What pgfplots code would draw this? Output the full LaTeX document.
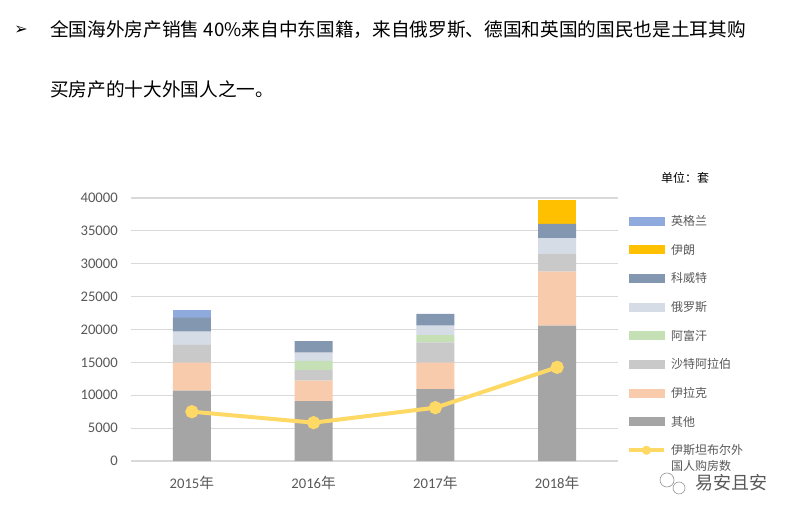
\documentclass[border=0pt]{standalone}
\usepackage{fontspec}
\setmainfont{Carlito}
\newfontfamily\cjk{Noto Sans CJK SC}
\newfontfamily\dejavu{DejaVu Sans}
\usepackage{pgfplots}
\pgfplotsset{compat=1.18}

\definecolor{cOther}{HTML}{A5A5A5}
\definecolor{cIraq}{HTML}{F8CBAD}
\definecolor{cSaudi}{HTML}{C9C9C9}
\definecolor{cAfg}{HTML}{C5E0B4}
\definecolor{cRus}{HTML}{D6DCE5}
\definecolor{cKuw}{HTML}{8497B0}
\definecolor{cIran}{HTML}{FFC000}
\definecolor{cEng}{HTML}{8FAADC}
\definecolor{cLine}{HTML}{FFD966}
\definecolor{cGrid}{HTML}{D9D9D9}
\definecolor{cTick}{HTML}{595959}

% shared frame of both axes (stacked bars + purchase line)
\pgfplotsset{
  frame/.style={
    at={(98.25pt,42pt)}, anchor=south west,
    scale only axis, width=365.25pt, height=197.25pt,
    xmin=-0.5, xmax=3.5, ymin=0, ymax=40000,
    xtick={0,1,2,3}, ytick={0,5000,...,40000},
    scaled y ticks=false,
    major tick length=0pt, clip=false,
  },
  swatch/.style={legend image code/.code={\fill[#1] (0pt,0.4pt) rectangle (26.25pt,6.4pt);}},
}

\begin{document}
\begin{tikzpicture}
\fill[white] (0,0) rectangle (596.25pt,387.75pt);

\begin{axis}[frame,
  axis line style={draw=none}, tick style={draw=none},
  ymajorgrids, grid style={cGrid, line width=0.9pt},
  ybar stacked, bar width=28.5pt,
  /pgf/number format/assume math mode=true,
  /pgf/number format/1000 sep={},
  yticklabel style={font=\fontsize{11}{13}\selectfont, text=cTick, anchor=east, inner sep=0pt, xshift=-9.75pt},
  xticklabel style={font=\fontsize{11}{13}\selectfont, text=cTick, anchor=base, inner sep=0pt, yshift=-20.6pt},
  xticklabels={2015{\cjk 年},2016{\cjk 年},2017{\cjk 年},2018{\cjk 年}},
  legend style={at={(axis description cs:1.0185,0.931)}, anchor=north west,
    draw=none, fill=none, inner sep=0pt, outer sep=0pt,
    row sep=12.5pt, column sep=3.75pt,
    font=\cjk\fontsize{9}{11}\selectfont, text=cTick,
    nodes={inner sep=0pt, anchor=base west, text height=7pt, text depth=2pt}},
  legend cell align=left,
]
\addplot[forget plot, draw=none, fill=cOther] coordinates {(0,10700) (1,9125) (2,10950) (3,20580)};
\addplot[forget plot, draw=none, fill=cIraq]  coordinates {(0,4250) (1,3085) (2,4000) (3,8220)};
\addplot[forget plot, draw=none, fill=cSaudi] coordinates {(0,2700) (1,1630) (2,3100) (3,2680)};
\addplot[forget plot, draw=none, fill=cAfg]   coordinates {(0,0) (1,1370) (2,1110) (3,0)};
\addplot[forget plot, draw=none, fill=cRus]   coordinates {(0,2030) (1,1260) (2,1420) (3,2390)};
\addplot[forget plot, draw=none, fill=cKuw]   coordinates {(0,2130) (1,1780) (2,1780) (3,2180)};
\addplot[forget plot, draw=none, fill=cIran]  coordinates {(0,0) (1,0) (2,0) (3,3650)};
\addplot[forget plot, draw=none, fill=cEng]   coordinates {(0,1170) (1,0) (2,0) (3,0)};

\addlegendimage{swatch=cEng}   \addlegendentry{英格兰}
\addlegendimage{swatch=cIran}  \addlegendentry{伊朗}
\addlegendimage{swatch=cKuw}   \addlegendentry{科威特}
\addlegendimage{swatch=cRus}   \addlegendentry{俄罗斯}
\addlegendimage{swatch=cAfg}   \addlegendentry{阿富汗}
\addlegendimage{swatch=cSaudi} \addlegendentry{沙特阿拉伯}
\addlegendimage{swatch=cIraq}  \addlegendentry{伊拉克}
\addlegendimage{swatch=cOther} \addlegendentry{其他}
\addlegendimage{legend image code/.code={
    \draw[cLine, line width=3pt] (0pt,3.4pt) -- (26.25pt,3.4pt);
    \fill[cLine] (13.1pt,3.4pt) circle (3.2pt);}}
\addlegendentry{\begin{tabular}[t]{@{}l@{}}伊斯坦布尔外\\[0.5pt]国人购房数\end{tabular}}
\end{axis}

% purchases by foreigners in Istanbul
\begin{axis}[frame, hide axis]
\addplot[cLine, line width=3pt, mark=*, mark size=3.4pt, mark options={fill=cLine, draw=cLine}]
  coordinates {(0,7500) (1,5830) (2,8110) (3,14250)};
\end{axis}

\begin{scope}[x=0.75pt, y=-0.75pt, yshift=387.75pt]
  \node[font=\dejavu\fontsize{12}{13}\selectfont, inner sep=0pt] at (21,30) {➢};
  \node[anchor=west, inner sep=0pt, font=\cjk\fontsize{14}{16}\selectfont]
    at (50,30) {全国海外房产销售 40\%来自中东国籍，来自俄罗斯、德国和英国的国民也是土耳其购};
  \node[anchor=west, inner sep=0pt, font=\cjk\fontsize{14}{16}\selectfont]
    at (50,89) {买房产的十大外国人之一。};
  \node[inner sep=0pt, font=\cjk\fontsize{9}{11}\selectfont] at (685,178) {单位：套};
  % account mark
  \draw[gray!80, line width=0.5pt] (667,480) circle (7);
  \draw[gray!80, line width=0.5pt] (679,488) circle (6);
  \node[anchor=west, inner sep=0pt, text=black!65, font=\cjk\fontsize{13.5}{15}\selectfont] at (695,483) {易安且安};
\end{scope}
\end{tikzpicture}
\end{document}
